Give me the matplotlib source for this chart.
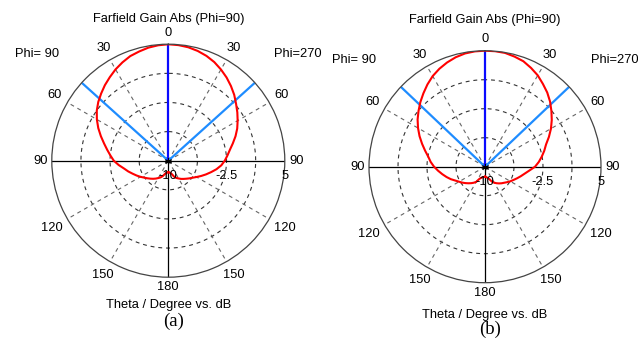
import numpy as np
import matplotlib
matplotlib.use('Agg')
import matplotlib.pyplot as plt
from matplotlib.transforms import offset_copy

# ---------------- data ----------------
theta_deg = [0, 5, 10, 15, 20, 25, 30, 35, 40, 45, 50, 55, 60, 65, 70, 75,
             80, 85, 90, 95, 100, 105, 110, 115, 120, 125, 130, 135, 140,
             145, 150, 155, 160, 165, 170, 175, 180]

# (a) gain in dB, Phi=90 (left half) and Phi=270 (right half)
gain_a_phi90 = [4.99, 4.92, 4.78, 4.55, 4.33, 3.97, 3.58, 3.13, 2.70, 2.23,
                1.77, 1.24, 0.62, -0.05, -0.76, -1.44, -2.02, -2.53, -2.98,
                -3.59, -4.21, -4.66, -5.11, -5.49, -5.85, -6.20, -6.48, -6.73,
                -6.96, -7.19, -7.42, -7.62, -7.88, -8.20, -8.39, -8.48, -8.51]
gain_a_phi270 = [4.99, 4.94, 4.83, 4.63, 4.36, 4.01, 3.56, 3.08, 2.55, 2.00,
                 1.39, 0.85, 0.31, -0.21, -0.79, -1.40, -1.95, -2.36, -2.73,
                 -3.15, -3.70, -4.30, -4.84, -5.34, -5.80, -6.18, -6.46, -6.72,
                 -6.94, -7.14, -7.36, -7.55, -7.81, -8.20, -8.39, -8.48, -8.51]

# (b)
gain_b_phi90 = [5.00, 4.97, 4.87, 4.65, 4.34, 3.97, 3.53, 2.98, 2.39, 1.82,
                1.22, 0.64, 0.00, -0.66, -1.34, -1.98, -2.55, -2.95, -3.41,
                -3.92, -4.40, -4.85, -5.29, -5.76, -6.12, -6.41, -6.70, -6.97,
                -7.22, -7.47, -7.74, -8.25, -8.45, -8.55, -8.63, -8.68, -8.71]
gain_b_phi270 = [5.00, 4.99, 4.94, 4.74, 4.51, 4.09, 3.64, 3.06, 2.52, 1.90,
                 1.21, 0.54, -0.15, -0.88, -1.60, -2.07, -2.55, -3.02, -3.53,
                 -4.25, -4.80, -5.22, -5.60, -5.94, -6.22, -6.51, -6.77, -6.97,
                 -7.18, -7.39, -7.61, -7.87, -8.25, -8.45, -8.58, -8.67, -8.71]

beam_half_a = 48.0     # 3 dB beam-width markers (deg)
beam_half_b = 46.5
main_dir = 0.0

r_min, r_max = -10.0, 5.0
ring_values = [-6.25, -2.5, 1.25]
radial_labels = ['-10', '-2.5', '5']
radial_label_values = [-10.0, -2.5, 5.0]
angle_ticks = [0, 30, 60, 90, 120, 150, 180]
spoke_angles = [30, 60, 120, 150]

title = 'Farfield Gain Abs (Phi=90)'
xlabel = 'Theta / Degree vs. dB'
phi_left = 'Phi= 90'
phi_right = 'Phi=270'

W, H = 638, 338
fig = plt.figure(figsize=(W / 100, H / 100), dpi=100)
fig.patch.set_facecolor('white')

FONT = 'Liberation Sans'
FS = 9.3


def fx(px):
    return px / W


def fy(py):
    return 1 - py / H


def draw_panel(cx, cy, R, g90, g270, beam, tag, title_y, xl_y, tag_y):
    ax = fig.add_axes([fx(cx - R), fy(cy + R), 2 * R / W, 2 * R / H],
                      projection='polar')
    ax.set_theta_zero_location('N')
    ax.set_theta_direction(1)
    ax.set_rlim(r_min, r_max)
    ax.grid(False)
    ax.set_xticks([])
    ax.set_yticks([])
    ax.patch.set_alpha(0)
    ax.spines['polar'].set_color('#444444')
    ax.spines['polar'].set_linewidth(0.9)

    full = np.linspace(0, 2 * np.pi, 721)
    for rv in ring_values:
        ax.plot(full, np.full_like(full, rv), color='#333333', lw=0.8,
                ls=(0, (3.5, 3.5)))
    for a in spoke_angles:
        for s in (1, -1):
            ax.plot([s * np.radians(a)] * 2, [r_min, r_max], color='#666666',
                    lw=0.8, ls=(0, (3.5, 3.5)))
    # solid axes lines
    for a in (90, -90, 180):
        ax.plot([np.radians(a)] * 2, [r_min, r_max], color='black', lw=0.9)

    # beam-width markers and main direction
    for s in (1, -1):
        ax.plot([s * np.radians(beam)] * 2, [r_min, r_max], color='#1e8cff',
                lw=1.6, solid_capstyle='butt')
    ax.plot([np.radians(main_dir)] * 2, [r_min, r_max], color='#0a0aff',
            lw=1.6, solid_capstyle='butt')

    # pattern
    th = np.radians(np.array(theta_deg, dtype=float))
    ang = np.concatenate([th[::-1], -th[1:]])
    val = np.concatenate([np.array(g90)[::-1], np.array(g270)[1:]])
    ax.plot(ang, val, color='#ff0000', lw=1.5, solid_joinstyle='round')

    ax.plot([0], [r_min], marker=(6, 2, 0), ms=5, color='black', mew=0.7)

    # angle labels
    lab_r = {0: 6.45, 30: 6.75, 60: 6.85, 90: 6.5, 120: 7.35, 150: 6.95, 180: 6.3}
    for a in angle_ticks:
        sides = (1,) if a in (0, 180) else (1, -1)
        for s in sides:
            ax.text(s * np.radians(a), lab_r[a], str(a), ha='center',
                    va='center', fontsize=FS, family=FONT, clip_on=False)
    # radial labels
    tr = offset_copy(ax.transData, fig=fig, x=0, y=-15, units='dots')
    for lbl, v in zip(radial_labels, radial_label_values):
        ax.text(np.radians(-90), v, lbl, transform=tr, ha='center',
                va='center', fontsize=FS, family=FONT, clip_on=False)

    fig.text(fx(cx), fy(title_y), title, ha='center', va='center',
             fontsize=FS, family=FONT)
    fig.text(fx(cx), fy(xl_y), xlabel, ha='center', va='center',
             fontsize=FS, family=FONT)
    fig.text(fx(cx - 131), fy(cy - 107), phi_left, ha='center', va='center',
             fontsize=FS, family=FONT)
    fig.text(fx(cx + 130), fy(cy - 107), phi_right, ha='center', va='center',
             fontsize=FS, family=FONT)
    fig.text(fx(cx + 5), fy(tag_y), tag, ha='center', va='center',
             fontsize=13.5, family='Liberation Serif')
    return ax


draw_panel(168.3, 160.7, 116.5, gain_a_phi90, gain_a_phi270, beam_half_a,
           '(a)', 19, 305, 321)
draw_panel(485.0, 166.7, 116.0, gain_b_phi90, gain_b_phi270, beam_half_b,
           '(b)', 20, 315, 329)

fig.savefig('out.png', dpi=100, facecolor='white')
